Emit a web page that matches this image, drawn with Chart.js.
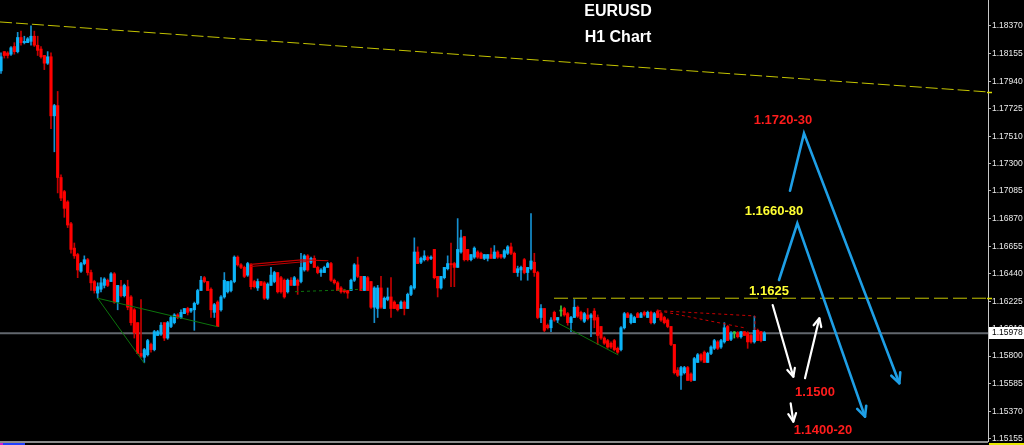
<!DOCTYPE html>
<html>
<head>
<meta charset="utf-8">
<title>EURUSD H1 Chart</title>
<script src="https://cdn.jsdelivr.net/npm/chart.js@4.4.1/dist/chart.umd.min.js"></script>
<style>
html, body { margin: 0; padding: 0; background: #000; }
#wrap { width: 1024px; height: 445px; }
</style>
</head>
<body>
<div id="wrap"><canvas id="chart" width="1024" height="445"></canvas></div>
<script>
// hourly candles, oldest first
const opens = [1.1802,1.1817,1.1816,1.1815,1.1821,1.1817,1.1828,1.1824,1.1824,1.1825,
  1.1829,1.1822,1.1819,1.1814,1.1808,1.1813,1.1767,1.1775,1.1719,1.1708,
  1.1700,1.1683,1.1664,1.1659,1.1646,1.1652,1.1655,1.1645,1.1638,1.1629,
  1.1632,1.1635,1.1639,1.1638,1.1644,1.1622,1.1634,1.1627,1.1634,1.1626,
  1.1616,1.1606,1.1582,1.1579,1.1581,1.1589,1.1585,1.1596,1.1597,1.1606,
  1.1594,1.1603,1.1606,1.1612,1.1610,1.1613,1.1617,1.1615,1.1616,1.1621,
  1.1631,1.1641,1.1638,1.1632,1.1614,1.1622,1.1616,1.1626,1.1630,1.1631,
  1.1638,1.1657,1.1651,1.1649,1.1643,1.1651,1.1638,1.1633,1.1638,1.1637,
  1.1625,1.1635,1.1638,1.1645,1.1641,1.1639,1.1630,1.1639,1.1635,1.1639,
  1.1638,1.1647,1.1658,1.1653,1.1656,1.1649,1.1645,1.1645,1.1649,1.1652,
  1.1639,1.1637,1.1633,1.1631,1.1631,1.1631,1.1639,1.1651,1.1642,1.1631,
  1.1641,1.1638,1.1618,1.1617,1.1633,1.1617,1.1624,1.1626,1.1622,1.1620,
  1.1617,1.1622,1.1617,1.1628,1.1633,1.1661,1.1653,1.1655,1.1657,1.1656,
  1.1663,1.1642,1.1633,1.1641,1.1648,1.1652,1.1652,1.1649,1.1661,1.1673,
  1.1663,1.1655,1.1657,1.1661,1.1660,1.1656,1.1656,1.1659,1.1656,1.1661,
  1.1659,1.1657,1.1660,1.1665,1.1660,1.1645,1.1647,1.1655,1.1645,1.1648,
  1.1653,1.1645,1.1610,1.1617,1.1604,1.1602,1.1614,1.1608,1.1615,1.1617,
  1.1613,1.1606,1.1610,1.1618,1.1614,1.1607,1.1612,1.1610,1.1615,1.1610,
  1.1603,1.1594,1.1592,1.1590,1.1592,1.1586,1.1585,1.1602,1.1613,1.1606,
  1.1606,1.1613,1.1610,1.1614,1.1610,1.1614,1.1606,1.1615,1.1613,1.1610,
  1.1608,1.1603,1.1589,1.1569,1.1565,1.1567,1.1571,1.1566,1.1561,1.1575,
  1.1581,1.1583,1.1575,1.1582,1.1586,1.1591,1.1587,1.1591,1.1603,1.1593,
  1.1598,1.1598,1.1595,1.1599,1.1598,1.1596,1.1591,1.1600,1.1599,1.1592];
const highs = [1.1816,1.1817,1.1817,1.1821,1.1824,1.1832,1.1833,1.1829,1.1828,1.1837,
  1.1833,1.1829,1.1821,1.1814,1.1817,1.1816,1.1776,1.1786,1.1721,1.1709,
  1.1701,1.1684,1.1668,1.1660,1.1653,1.1658,1.1656,1.1647,1.1639,1.1637,
  1.1641,1.1641,1.1640,1.1645,1.1645,1.1635,1.1639,1.1636,1.1639,1.1627,
  1.1617,1.1606,1.1624,1.1586,1.1593,1.1590,1.1600,1.1600,1.1606,1.1606,
  1.1607,1.1611,1.1613,1.1613,1.1616,1.1617,1.1618,1.1617,1.1622,1.1632,
  1.1642,1.1642,1.1638,1.1633,1.1621,1.1623,1.1627,1.1645,1.1638,1.1639,
  1.1658,1.1658,1.1652,1.1650,1.1653,1.1652,1.1639,1.1640,1.1638,1.1638,
  1.1637,1.1649,1.1646,1.1645,1.1642,1.1640,1.1640,1.1641,1.1642,1.1640,
  1.1660,1.1659,1.1659,1.1657,1.1658,1.1650,1.1648,1.1650,1.1653,1.1653,
  1.1640,1.1638,1.1634,1.1632,1.1631,1.1640,1.1652,1.1657,1.1642,1.1642,
  1.1642,1.1638,1.1634,1.1635,1.1642,1.1626,1.1633,1.1641,1.1623,1.1620,
  1.1623,1.1623,1.1629,1.1635,1.1672,1.1665,1.1657,1.1662,1.1658,1.1658,
  1.1663,1.1642,1.1642,1.1649,1.1658,1.1668,1.1653,1.1687,1.1678,1.1673,
  1.1663,1.1659,1.1665,1.1662,1.1661,1.1659,1.1659,1.1664,1.1666,1.1662,
  1.1659,1.1663,1.1666,1.1668,1.1661,1.1650,1.1650,1.1656,1.1649,1.1691,
  1.1660,1.1646,1.1620,1.1617,1.1605,1.1610,1.1615,1.1610,1.1619,1.1618,
  1.1614,1.1611,1.1624,1.1619,1.1615,1.1614,1.1617,1.1613,1.1617,1.1612,
  1.1603,1.1595,1.1593,1.1591,1.1593,1.1587,1.1603,1.1614,1.1614,1.1613,
  1.1611,1.1614,1.1614,1.1615,1.1615,1.1615,1.1614,1.1616,1.1614,1.1611,
  1.1609,1.1603,1.1589,1.1571,1.1572,1.1572,1.1572,1.1567,1.1579,1.1582,
  1.1582,1.1584,1.1583,1.1588,1.1593,1.1592,1.1593,1.1606,1.1604,1.1599,
  1.1599,1.1599,1.1599,1.1599,1.1599,1.1597,1.1611,1.1601,1.1599,1.1599];
const lows = [1.1800,1.1812,1.1812,1.1814,1.1815,1.1816,1.1822,1.1823,1.1824,1.1822,
  1.1821,1.1814,1.1812,1.1803,1.1807,1.1757,1.1739,1.1707,1.1701,1.1688,
  1.1680,1.1660,1.1656,1.1641,1.1645,1.1651,1.1643,1.1631,1.1629,1.1625,
  1.1630,1.1633,1.1634,1.1638,1.1621,1.1616,1.1626,1.1626,1.1616,1.1604,
  1.1594,1.1582,1.1579,1.1575,1.1580,1.1583,1.1584,1.1596,1.1596,1.1592,
  1.1593,1.1602,1.1605,1.1609,1.1609,1.1613,1.1612,1.1614,1.1600,1.1620,
  1.1631,1.1637,1.1631,1.1610,1.1610,1.1603,1.1615,1.1625,1.1629,1.1630,
  1.1637,1.1650,1.1648,1.1641,1.1642,1.1632,1.1633,1.1631,1.1635,1.1624,
  1.1624,1.1635,1.1637,1.1629,1.1629,1.1625,1.1629,1.1635,1.1635,1.1628,
  1.1637,1.1646,1.1646,1.1652,1.1649,1.1644,1.1642,1.1645,1.1649,1.1638,
  1.1636,1.1631,1.1629,1.1629,1.1625,1.1631,1.1638,1.1641,1.1631,1.1631,
  1.1631,1.1617,1.1606,1.1610,1.1617,1.1617,1.1623,1.1610,1.1617,1.1615,
  1.1617,1.1612,1.1617,1.1627,1.1632,1.1652,1.1652,1.1654,1.1654,1.1655,
  1.1640,1.1626,1.1632,1.1640,1.1647,1.1634,1.1634,1.1649,1.1660,1.1654,
  1.1654,1.1654,1.1656,1.1656,1.1656,1.1655,1.1654,1.1656,1.1656,1.1656,
  1.1656,1.1656,1.1659,1.1659,1.1645,1.1642,1.1639,1.1644,1.1639,1.1647,
  1.1642,1.1609,1.1606,1.1599,1.1601,1.1599,1.1607,1.1606,1.1611,1.1611,
  1.1604,1.1599,1.1610,1.1610,1.1608,1.1606,1.1608,1.1595,1.1602,1.1589,
  1.1593,1.1589,1.1586,1.1586,1.1584,1.1582,1.1584,1.1601,1.1610,1.1605,
  1.1606,1.1610,1.1610,1.1611,1.1610,1.1605,1.1605,1.1610,1.1607,1.1605,
  1.1602,1.1588,1.1566,1.1564,1.1554,1.1566,1.1561,1.1560,1.1561,1.1575,
  1.1576,1.1575,1.1575,1.1581,1.1585,1.1585,1.1586,1.1590,1.1592,1.1592,
  1.1594,1.1594,1.1594,1.1596,1.1586,1.1590,1.1590,1.1592,1.1591,1.1592];
const closes = [1.1813,1.1814,1.1814,1.1820,1.1817,1.1828,1.1824,1.1825,1.1827,1.1829,
  1.1822,1.1818,1.1813,1.1808,1.1813,1.1767,1.1775,1.1719,1.1703,1.1695,
  1.1682,1.1663,1.1658,1.1647,1.1652,1.1655,1.1645,1.1637,1.1631,1.1634,
  1.1637,1.1640,1.1635,1.1644,1.1622,1.1635,1.1627,1.1635,1.1618,1.1606,
  1.1598,1.1582,1.1580,1.1585,1.1592,1.1585,1.1599,1.1599,1.1604,1.1594,
  1.1606,1.1610,1.1612,1.1610,1.1614,1.1617,1.1614,1.1617,1.1621,1.1631,
  1.1639,1.1638,1.1631,1.1616,1.1620,1.1603,1.1626,1.1639,1.1638,1.1638,
  1.1657,1.1651,1.1649,1.1642,1.1652,1.1634,1.1634,1.1638,1.1635,1.1625,
  1.1636,1.1643,1.1645,1.1630,1.1630,1.1626,1.1639,1.1635,1.1641,1.1635,
  1.1649,1.1658,1.1647,1.1656,1.1649,1.1645,1.1647,1.1649,1.1652,1.1639,
  1.1637,1.1631,1.1630,1.1630,1.1629,1.1639,1.1651,1.1642,1.1631,1.1642,
  1.1631,1.1618,1.1633,1.1633,1.1618,1.1625,1.1626,1.1617,1.1617,1.1616,
  1.1622,1.1617,1.1628,1.1634,1.1661,1.1652,1.1656,1.1658,1.1655,1.1657,
  1.1641,1.1633,1.1642,1.1649,1.1652,1.1651,1.1649,1.1663,1.1672,1.1655,
  1.1655,1.1659,1.1664,1.1657,1.1656,1.1659,1.1659,1.1656,1.1661,1.1657,
  1.1657,1.1662,1.1665,1.1660,1.1645,1.1648,1.1649,1.1645,1.1649,1.1654,
  1.1645,1.1610,1.1617,1.1600,1.1602,1.1608,1.1608,1.1610,1.1615,1.1612,
  1.1606,1.1610,1.1618,1.1611,1.1609,1.1613,1.1609,1.1612,1.1608,1.1596,
  1.1594,1.1590,1.1587,1.1587,1.1585,1.1583,1.1602,1.1613,1.1610,1.1612,
  1.1610,1.1610,1.1613,1.1612,1.1614,1.1606,1.1613,1.1610,1.1608,1.1606,
  1.1603,1.1589,1.1567,1.1565,1.1571,1.1571,1.1561,1.1561,1.1578,1.1581,
  1.1577,1.1575,1.1582,1.1587,1.1592,1.1586,1.1592,1.1602,1.1592,1.1598,
  1.1598,1.1595,1.1599,1.1596,1.1591,1.1591,1.1600,1.1592,1.1592,1.1598];

const yTicks = [1.18370, 1.18155, 1.17940, 1.17725, 1.17510, 1.17300, 1.17085, 1.16870,
  1.16655, 1.16440, 1.16225, 1.16010, 1.15800, 1.15585, 1.15370, 1.15155];
const lastPrice = 1.15978;

// drawn objects, x = bar number, y = price
const trendLine = [{x: -0.3, y: 1.18401}, {x: 296.1, y: 1.17856}];
const levelLine = [{x: 165.9, y: 1.1625}, {x: 296.1, y: 1.1625}];
const greenLines = [
  [{x: 29, y: 1.1625}, {x: 43, y: 1.15743}],
  [{x: 29, y: 1.1625}, {x: 65, y: 1.16028}],
  [{x: 167.2, y: 1.16055}, {x: 185.2, y: 1.15808}]
];
const greenDashed = [{x: 88.2, y: 1.16301}, {x: 108.6, y: 1.16320}];
const redLines = [
  [{x: 74.9, y: 1.16513}, {x: 90.2, y: 1.16548}, {x: 98.2, y: 1.16542}],
  [{x: 74.9, y: 1.16497}, {x: 91.7, y: 1.16536}]
];
const redDashed = [
  [{x: 197.2, y: 1.16153}, {x: 226.2, y: 1.16112}, {x: 226.2, y: 1.16003}],
  [{x: 197.2, y: 1.16153}, {x: 223.7, y: 1.16016}]
];
const blueArrows = [
  [{x: 236.7, y: 1.17087}, {x: 240.9, y: 1.17534}, {x: 269.5, y: 1.15588}],
  [{x: 233.4, y: 1.16392}, {x: 238.9, y: 1.16833}, {x: 259.2, y: 1.15328}]
];
const whiteArrows = [
  [{x: 231.5, y: 1.16197}, {x: 237.7, y: 1.15639}],
  [{x: 241.2, y: 1.15627}, {x: 245.5, y: 1.16094}],
  [{x: 236.9, y: 1.15432}, {x: 237.7, y: 1.15289}]
];
const noteTexts = ['1.1720-30', '1.1660-80', '1.1625', '1.1500', '1.1400-20'];
const noteAt = [{x: 234.6, y: 1.17634}, {x: 231.9, y: 1.16929}, {x: 230.4, y: 1.16302},
  {x: 244.2, y: 1.15520}, {x: 246.6, y: 1.15224}];

const noteColors = ['#ff1c1c', '#ffff33', '#ffff33', '#ff1c1c', '#ff1c1c'];
const upBody = '#0cb4f8', downBody = '#ff0000', dojiColor = '#3cc83c';
const upWick = '#1590d0', downWick = '#c40000';

function candleColor(ctx, up, down) {
  if (ctx.type !== 'data') return up;
  const i = ctx.dataIndex;
  if (closes[i] > opens[i]) return up;
  if (closes[i] < opens[i]) return down;
  return dojiColor;
}

function seg(points, color, width, dash, extra) {
  return Object.assign({
    type: 'line', data: points, borderColor: color, borderWidth: width,
    borderDash: dash || [], pointRadius: 0, fill: false, tension: 0
  }, extra || {});
}

const arrowHeads = {
  id: 'arrowHeads',
  afterDatasetsDraw(chart) {
    const ctx = chart.ctx;
    chart.data.datasets.forEach((ds, k) => {
      if (!ds.arrow) return;
      const pts = chart.getDatasetMeta(k).data;
      const a = pts[pts.length - 2], b = pts[pts.length - 1];
      const ang = Math.atan2(b.y - a.y, b.x - a.x);
      ctx.save();
      ctx.strokeStyle = ds.borderColor;
      ctx.lineWidth = ds.borderWidth;
      ctx.lineCap = 'round';
      ctx.lineJoin = 'round';
      ctx.beginPath();
      ctx.moveTo(b.x - ds.arrow * Math.cos(ang - 0.45), b.y - ds.arrow * Math.sin(ang - 0.45));
      ctx.lineTo(b.x, b.y);
      ctx.lineTo(b.x - ds.arrow * Math.cos(ang + 0.45), b.y - ds.arrow * Math.sin(ang + 0.45));
      ctx.stroke();
      ctx.restore();
    });
  }
};

const notes = {
  id: 'notes',
  afterDatasetsDraw(chart) {
    const ctx = chart.ctx, sx = chart.scales.x, sy = chart.scales.y;
    ctx.save();
    ctx.font = 'bold 13px "Liberation Sans", Arial, sans-serif';
    ctx.textAlign = 'center';
    ctx.textBaseline = 'middle';
    noteTexts.forEach((t, k) => {
      ctx.fillStyle = noteColors[k];
      ctx.fillText(t, sx.getPixelForValue(noteAt[k].x), sy.getPixelForValue(noteAt[k].y));
    });
    ctx.restore();
  }
};

const frame = {
  id: 'frame',
  afterDraw(chart) {
    const ctx = chart.ctx, a = chart.chartArea, sy = chart.scales.y;
    ctx.save();
    // title
    ctx.fillStyle = '#ffffff';
    ctx.font = 'bold 16px "Liberation Sans", Arial, sans-serif';
    ctx.textAlign = 'center';
    ctx.textBaseline = 'middle';
    ctx.fillText('EURUSD', 618, 12);
    ctx.fillText('H1 Chart', 618, 38);
    // yellow marks on the price scale
    ctx.strokeStyle = '#d8d800';
    ctx.lineWidth = 1.5;
    [trendLine[1].y, levelLine[1].y].forEach(v => {
      const y = Math.round(sy.getPixelForValue(v)) + 0.5;
      ctx.beginPath();
      ctx.moveTo(a.right - 1, y);
      ctx.lineTo(a.right + 4, y);
      ctx.stroke();
    });
    // current price box
    const py = Math.round(sy.getPixelForValue(lastPrice));
    ctx.fillStyle = '#ffffff';
    ctx.fillRect(a.right + 1, py - 6, 36, 12);
    ctx.fillStyle = '#000000';
    ctx.font = '8.5px "Liberation Sans", Arial, sans-serif';
    ctx.textAlign = 'left';
    ctx.fillText(lastPrice.toFixed(5), a.right + 4, py);
    // bottom strip
    ctx.fillStyle = '#8c8c8c';
    ctx.fillRect(0, a.bottom, a.right, 2);
    ctx.fillStyle = '#d020d0';
    ctx.fillRect(0, a.bottom + 2, 3, 2);
    ctx.fillStyle = '#2040ff';
    ctx.fillRect(3, a.bottom + 2, 22, 2);
    ctx.fillStyle = '#e8e800';
    ctx.fillRect(a.right + 1, a.bottom + 2, 36, 2);
    ctx.restore();
  }
};

const idx = opens.map((_, i) => i);

new Chart(document.getElementById('chart'), {
  type: 'bar',
  data: {
    datasets: [
      ...blueArrows.map(p => seg(p, '#1e9fe6', 2.6, null, {arrow: 11, borderCapStyle: 'round'})),
      ...whiteArrows.map(p => seg(p, '#ffffff', 2.2, null, {arrow: 9, borderCapStyle: 'round'})),
      seg(trendLine, '#c4c400', 1, [12, 4]),
      seg(levelLine, '#c4c400', 1, [14, 5]),
      ...greenLines.map(p => seg(p, '#0c740c', 1)),
      seg(greenDashed, '#0c740c', 1, [3, 3]),
      ...redLines.map(p => seg(p, '#c00000', 1.2)),
      ...redDashed.map(p => seg(p, '#c80000', 1, [3, 3])),
      {
        type: 'bar',
        data: idx.map(i => ({x: i, y: [opens[i], closes[i]]})),
        backgroundColor: ctx => candleColor(ctx, upBody, downBody),
        barThickness: 2.5,
        minBarLength: 1,
        grouped: false,
        borderWidth: 0
      },
      {
        type: 'bar',
        data: idx.map(i => ({x: i, y: [lows[i], highs[i]]})),
        backgroundColor: ctx => candleColor(ctx, upWick, downWick),
        barThickness: 1,
        grouped: false,
        borderWidth: 0
      },
      seg([{x: -0.3, y: lastPrice}, {x: 296.1, y: lastPrice}], '#62676e', 2)
    ]
  },
  options: {
    responsive: false,
    animation: false,
    devicePixelRatio: 1,
    layout: { padding: { left: 0, right: 0, top: 0, bottom: 4 } },
    plugins: { legend: { display: false }, tooltip: { enabled: false } },
    scales: {
      x: {
        type: 'linear', min: -0.3, max: 296.1, display: false, offset: false,
        grid: { display: false }
      },
      y: {
        position: 'right', min: 1.151384, max: 1.18572,
        afterBuildTicks: s => { s.ticks = yTicks.map(v => ({ value: v })); },
        afterFit: s => { s.width = 36; s.paddingTop = 0; s.paddingBottom = 0; },
        grid: { drawOnChartArea: false, color: '#b4b4b4', tickLength: 3 },
        border: { color: '#c8c8c8' },
        ticks: {
          color: '#ececec', padding: 1, autoSkip: false,
          font: { family: '"Liberation Sans", Arial, sans-serif', size: 8.5 },
          callback: v => v.toFixed(5)
        }
      }
    }
  },
  plugins: [arrowHeads, notes, frame]
});
</script>
</body>
</html>
